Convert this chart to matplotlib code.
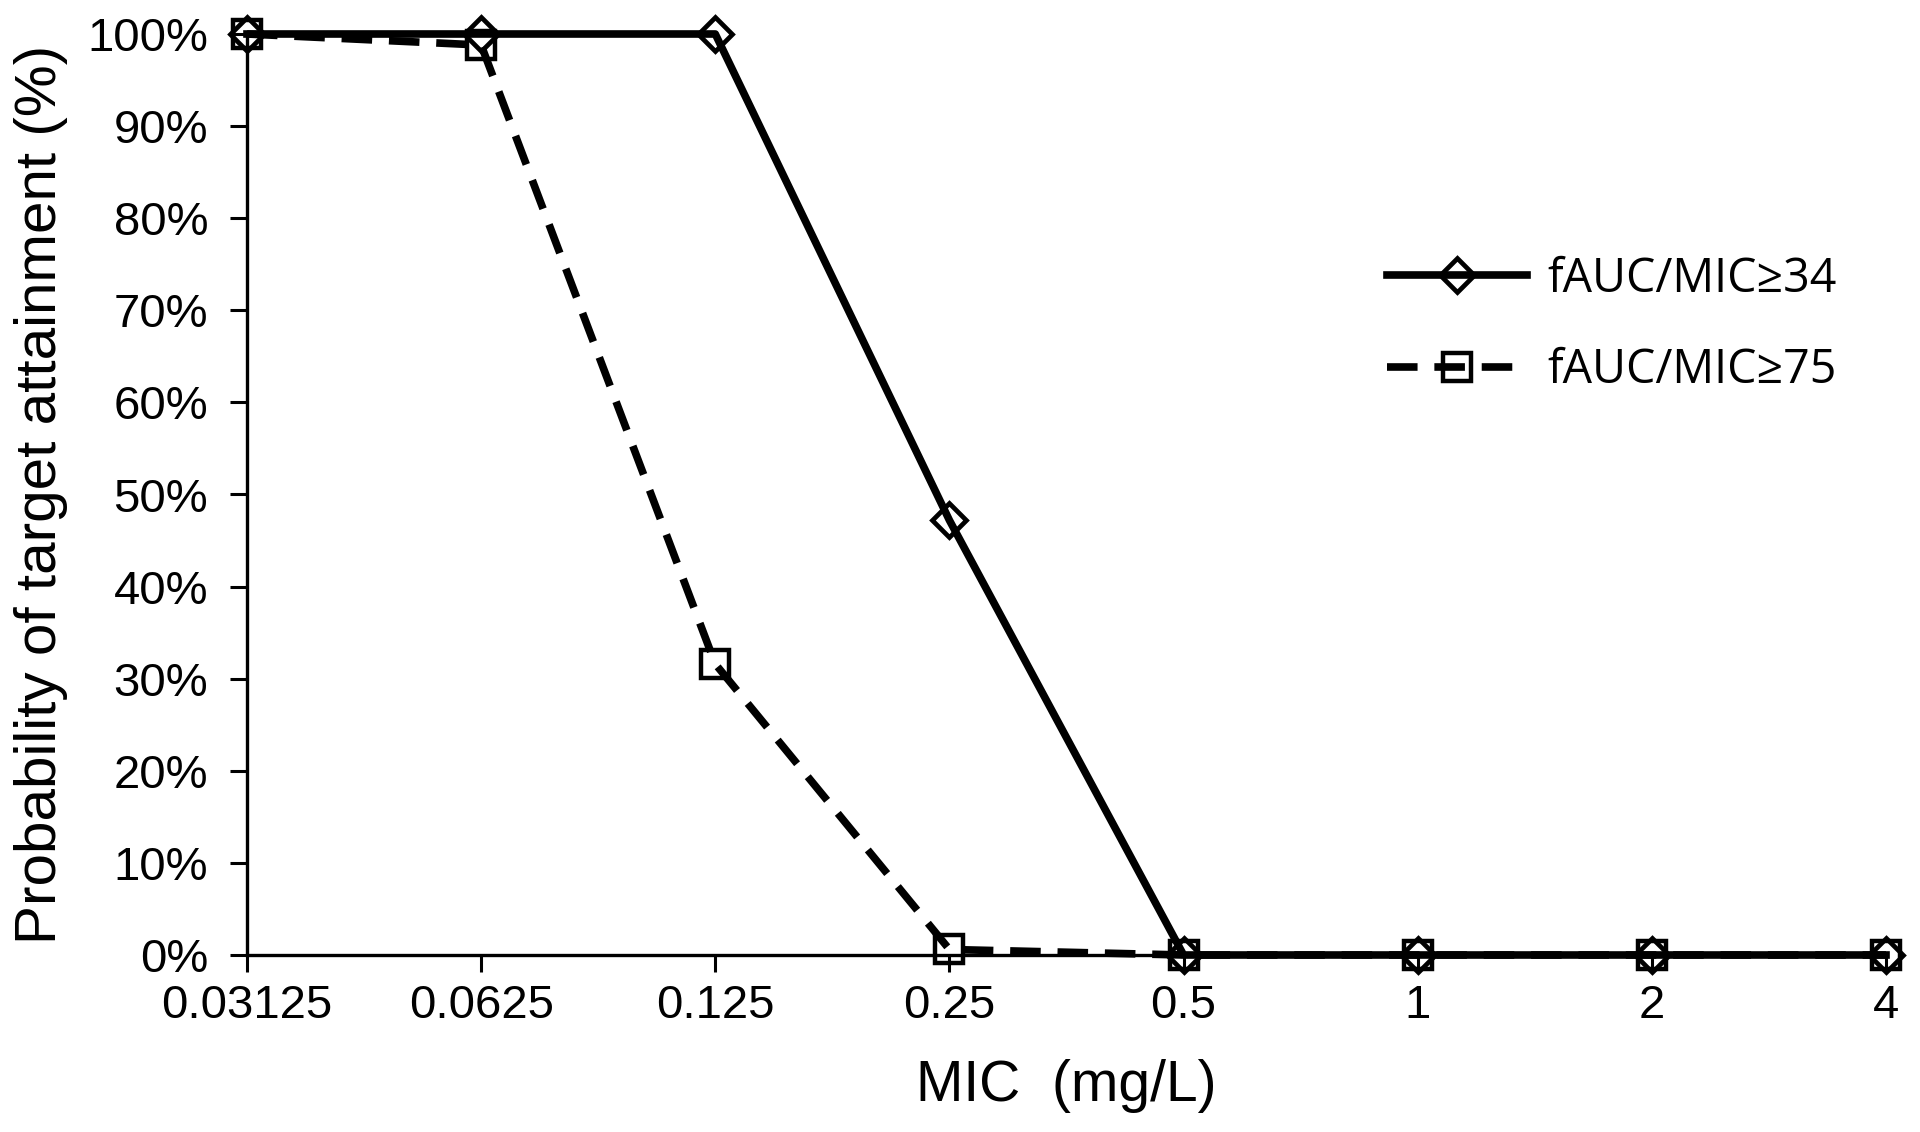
import matplotlib
matplotlib.use('Agg')
import matplotlib.pyplot as plt
from matplotlib.ticker import PercentFormatter

# data
mic_labels = ['0.03125', '0.0625', '0.125', '0.25', '0.5', '1', '2', '4']
pta_34 = [100, 100, 100, 47.2, 0, 0, 0, 0]
pta_75 = [100, 98.8, 31.6, 0.6, 0, 0, 0, 0]
series_names = ['fAUC/MIC\u226534', 'fAUC/MIC\u226575']

FONT = 'Liberation Sans'

fig = plt.figure(figsize=(19.2, 11.32), dpi=100)
fig.patch.set_facecolor('white')
ax = fig.add_axes([247/1920, 1-955/1132, (1886-247)/1920, (955-34)/1132])

x = list(range(len(mic_labels)))

ax.plot(x, pta_75, color='black', lw=5.5, linestyle=(0, (4.0, 2.2)),
        marker='s', ms=20, mfc='none', mec='black', mew=3.2,
        clip_on=False, zorder=3, label=series_names[1])
ax.plot(x, pta_34, color='black', lw=5.5, linestyle='-',
        marker='D', ms=17, mfc='none', mec='black', mew=3.4,
        clip_on=False, zorder=4, label=series_names[0])

ax.set_xlim(0, len(mic_labels) - 1)
ax.set_ylim(0, 100)
ax.set_xticks(x)
ax.set_xticklabels(mic_labels)
ax.set_yticks(range(0, 101, 10))
ax.yaxis.set_major_formatter(PercentFormatter(100, decimals=0))

for s in ['top', 'right']:
    ax.spines[s].set_visible(False)
for s in ['left', 'bottom']:
    ax.spines[s].set_linewidth(2.4)

ax.tick_params(axis='both', direction='out', length=12, width=2.2,
               labelsize=34, color='black')
ax.tick_params(axis='x', pad=9)
ax.tick_params(axis='y', pad=16)
for lab in ax.get_xticklabels() + ax.get_yticklabels():
    lab.set_fontfamily(FONT)

ax.set_xlabel('MIC  (mg/L)', fontsize=41, family=FONT, labelpad=22)
ax.set_ylabel('Probability of target attainment (%)', fontsize=42, family=FONT, labelpad=14)

handles, labels = ax.get_legend_handles_labels()
leg = fig.legend(handles[::-1], labels[::-1], loc='upper left',
                 bbox_to_anchor=(1387/1920, 1-255/1132),
                 frameon=False, borderpad=0, borderaxespad=0,
                 handlelength=3.0, handletextpad=0.45, labelspacing=0.95,
                 prop={'family': ['Open Sans', 'DejaVu Sans'], 'size': 33.5})

fig.savefig('out.png', dpi=100, facecolor='white')
